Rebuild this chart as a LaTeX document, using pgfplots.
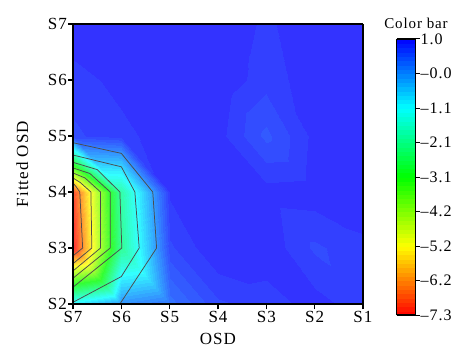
\documentclass[border=0pt]{standalone}
\usepackage{pgfplots}
\pgfplotsset{compat=1.18}
\usepackage{fontspec}
\setmainfont{Liberation Serif}[LetterSpace=6]
\pgfplotsset{
  colormap={cb}{rgb255=(255,0,0) rgb255=(255,255,0) rgb255=(0,255,0) rgb255=(0,255,255) rgb255=(0,0,255)},
  colormap={pl}{rgb255=(255,51,51) rgb255=(255,255,51) rgb255=(51,255,51) rgb255=(51,255,255) rgb255=(51,51,255)},
  colormap={pl64}{samples of colormap=(65 of pl)},
}
\begin{document}
\begin{tikzpicture}
\path[use as bounding box] (0,0) rectangle (453pt,-350pt);
\begin{axis}[
  view={0}{90},
  scale only axis, width=290pt, height=280pt,
  at={(73pt,-304pt)}, anchor=south west,
  xmin=0, xmax=6, ymin=0, ymax=5,
  xtick={0,1,2,3,4,5,6}, xticklabels={S7,S6,S5,S4,S3,S2,S1},
  ytick={0,1,2,3,4,5}, yticklabels={S2,S3,S4,S5,S6,S7},
  ztick=\empty,
  tick pos=left, tick align=outside,
  major tick length=5pt,
  major tick style={line width=1.2pt, black},
  axis line style={line width=1.3pt, black},
  font=\fontsize{17}{20}\selectfont,
  xticklabel style={inner sep=2pt},
  yticklabel style={inner sep=1pt},
  xlabel={OSD}, ylabel={Fitted OSD},
  xlabel style={yshift=-5pt},
  ylabel style={yshift=15pt},
  colormap name=cb,
  point meta min=-7.25, point meta max=1,
  colorbar sampled,
  colorbar style={
    samples=65,
    at={(parent axis.north east)}, anchor=north west,
    xshift=25pt, yshift=-15pt,
    scale only axis, width=19pt, height=276pt,
    ytick={-7.25,-6.21875,-5.1875,-4.15625,-3.125,-2.09375,-1.0625,-0.03125,1},
    yticklabels={–7.3,–6.2,–5.2,–4.2,–3.1,–2.1,–1.1,–0.0,1.0},
    yticklabel pos=right, ytick pos=right,
    tick align=outside, major tick length=4pt,
    major tick style={line width=1pt, black},
    axis line style={line width=1.3pt, black},
    yticklabel style={inner sep=0pt, xshift=1pt, font=\fontsize{16}{19}\selectfont},
    title={Color bar},
    title style={font=\fontsize{15}{18}\selectfont, xshift=10pt, yshift=1pt},
  },
]
\addplot3[surf, shader=interp, colormap name=pl64, colormap access=piecewise constant] table {
0 0 -0.9
1 0 0.0
2 0 0.3
3 0 0.72
4 0 0.8
5 0 0.93
6 0 0.8

0 1 -7.25
1 1 -2.12
2 1 0.72
3 1 1.0
4 1 0.97
5 1 0.72
6 1 0.83

0 2 -6.92
1 2 -1.94
2 2 0.9
3 2 0.99
4 2 0.93
5 2 0.95
6 2 1.0

0 3 0.72
1 3 0.82
2 3 0.97
3 3 0.93
4 3 0.58
5 3 0.92
6 3 1.0

0 4 0.8
1 4 0.93
2 4 1.0
3 4 0.98
4 4 0.8
5 4 0.96
6 4 1.0

0 5 1.0
1 5 1.0
2 5 1.0
3 5 1.0
4 5 0.84
5 5 1.0
6 5 1.0
};
\addplot3[draw=black!70, line width=0.75pt] coordinates {(0,0.86,1) (0.20,1,1) (0.14,2,1) (0.06,2.10,1) (0,2.16,1)};
\addplot3[draw=black!70, line width=0.75pt] coordinates {(0,0.72,1) (0.39,1,1) (0.37,2,1) (0.15,2.17,1) (0,2.25,1)};
\addplot3[draw=black!70, line width=0.75pt] coordinates {(0,0.59,1) (0.57,1,1) (0.57,2,1) (0.25,2.25,1) (0,2.34,1)};
\addplot3[draw=black!70, line width=0.75pt] coordinates {(0,0.46,1) (0.77,1,1) (0.77,2,1) (0.35,2.33,1) (0,2.43,1)};
\addplot3[draw=black!70, line width=0.75pt] coordinates {(0,0.30,1) (1.01,1,1) (0.97,2,1) (0.5,2.4,1) (0,2.53,1)};
\addplot3[draw=black!70, line width=0.75pt] coordinates {(0,0.03,1) (1.0,0.49,1) (1.37,1,1) (1.28,2,1) (1.0,2.45,1) (0,2.66,1)};
\addplot3[draw=black!70, line width=0.75pt] coordinates {(0.97,0,1) (1.73,1,1) (1.65,2,1) (1.0,2.69,1) (0,2.88,1)};
\end{axis}
\end{tikzpicture}
\end{document}
